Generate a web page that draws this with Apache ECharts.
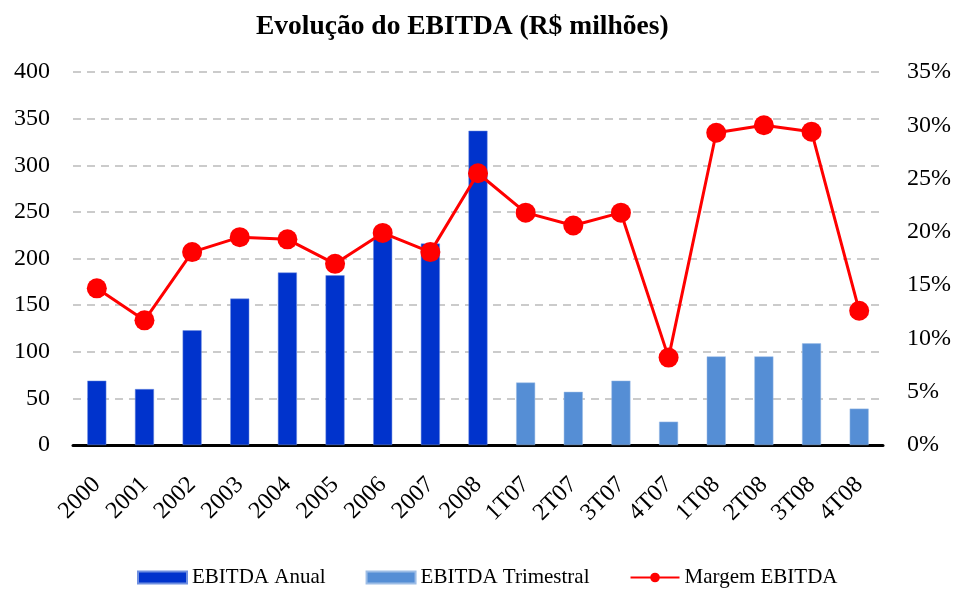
<!DOCTYPE html>
<html>
<head>
<meta charset="utf-8">
<script src="https://cdn.jsdelivr.net/npm/echarts@6/dist/echarts.min.js"></script>
<style>
  html, body { margin: 0; padding: 0; background: #fff; }
  #chart { width: 956px; height: 591px; }
</style>
</head>
<body>
<div id="chart"></div>
<script>
// categorias do eixo x
const categories = ['2000', '2001', '2002', '2003', '2004', '2005', '2006', '2007', '2008',
  '1T07', '2T07', '3T07', '4T07', '1T08', '2T08', '3T08', '4T08'];
// EBITDA anual (R$ milhões)
const ebitdaAnual = [69, 60, 123, 157, 185, 182, 222, 216, 337,
  null, null, null, null, null, null, null, null];
// EBITDA trimestral (R$ milhões)
const ebitdaTrimestral = [null, null, null, null, null, null, null, null, null,
  67, 57, 69, 25, 95, 95, 109, 39];
// margem EBITDA (%)
const margem = [14.7, 11.7, 18.1, 19.5, 19.3, 17.0, 19.9, 18.1, 25.5,
  21.8, 20.6, 21.8, 8.2, 29.3, 30.0, 29.4, 12.6];

const serif = '"Liberation Serif", "DejaVu Serif", serif';

const chart = echarts.init(document.getElementById('chart'));

const option = {
  animation: false,
  title: {
    text: 'Evolução do EBITDA (R$ milhões)',
    left: 256,
    top: 13,
    padding: 0,
    textStyle: { fontFamily: serif, fontSize: 27.5, fontWeight: 'bold', color: '#000' }
  },
  legend: {
    top: 567,
    left: 137,
    padding: 0,
    itemGap: 40,
    itemWidth: 49,
    itemHeight: 12,
    textStyle: { fontFamily: serif, fontSize: 21, color: '#000' },
    data: [
      { name: 'EBITDA Anual', icon: 'rect' },
      { name: 'EBITDA Trimestral', icon: 'rect' },
      { name: 'Margem EBITDA' }
    ]
  },
  grid: { left: 73, right: 73, top: 72, bottom: 146 },
  xAxis: {
    type: 'category',
    data: categories,
    axisLine: { lineStyle: { color: '#000', width: 3 } },
    axisTick: { show: false },
    axisLabel: {
      interval: 0,
      rotate: 45,
      margin: 36,
      fontFamily: serif,
      fontSize: 24,
      color: '#000'
    }
  },
  yAxis: [
    {
      type: 'value',
      min: 0,
      max: 400,
      interval: 50,
      axisLine: { show: false },
      axisTick: { show: false },
      axisLabel: { fontFamily: serif, fontSize: 24, color: '#000', margin: 23 },
      splitLine: { lineStyle: { color: '#bbbbbb', type: [8, 6], width: 1.5 } }
    },
    {
      type: 'value',
      min: 0,
      max: 35,
      interval: 5,
      axisLine: { show: false },
      axisTick: { show: false },
      axisLabel: { formatter: '{value}%', fontFamily: serif, fontSize: 24, color: '#000', margin: 24 },
      splitLine: { show: false }
    }
  ],
  series: [
    {
      name: 'EBITDA Anual',
      type: 'bar',
      data: ebitdaAnual,
      barWidth: 19,
      barGap: '-100%',
      itemStyle: { color: '#0033CC', borderColor: '#6f8fe0', borderWidth: 0.5 }
    },
    {
      name: 'EBITDA Trimestral',
      type: 'bar',
      data: ebitdaTrimestral,
      barWidth: 19,
      barGap: '-100%',
      itemStyle: { color: '#558ED5', borderColor: '#9dbde6', borderWidth: 0.5 }
    },
    {
      name: 'Margem EBITDA',
      type: 'line',
      yAxisIndex: 1,
      data: margem,
      symbol: 'circle',
      symbolSize: 20,
      lineStyle: { color: '#FF0000', width: 3 },
      itemStyle: { color: '#FF0000' },
      z: 5
    }
  ]
};

chart.setOption(option);
</script>
</body>
</html>
